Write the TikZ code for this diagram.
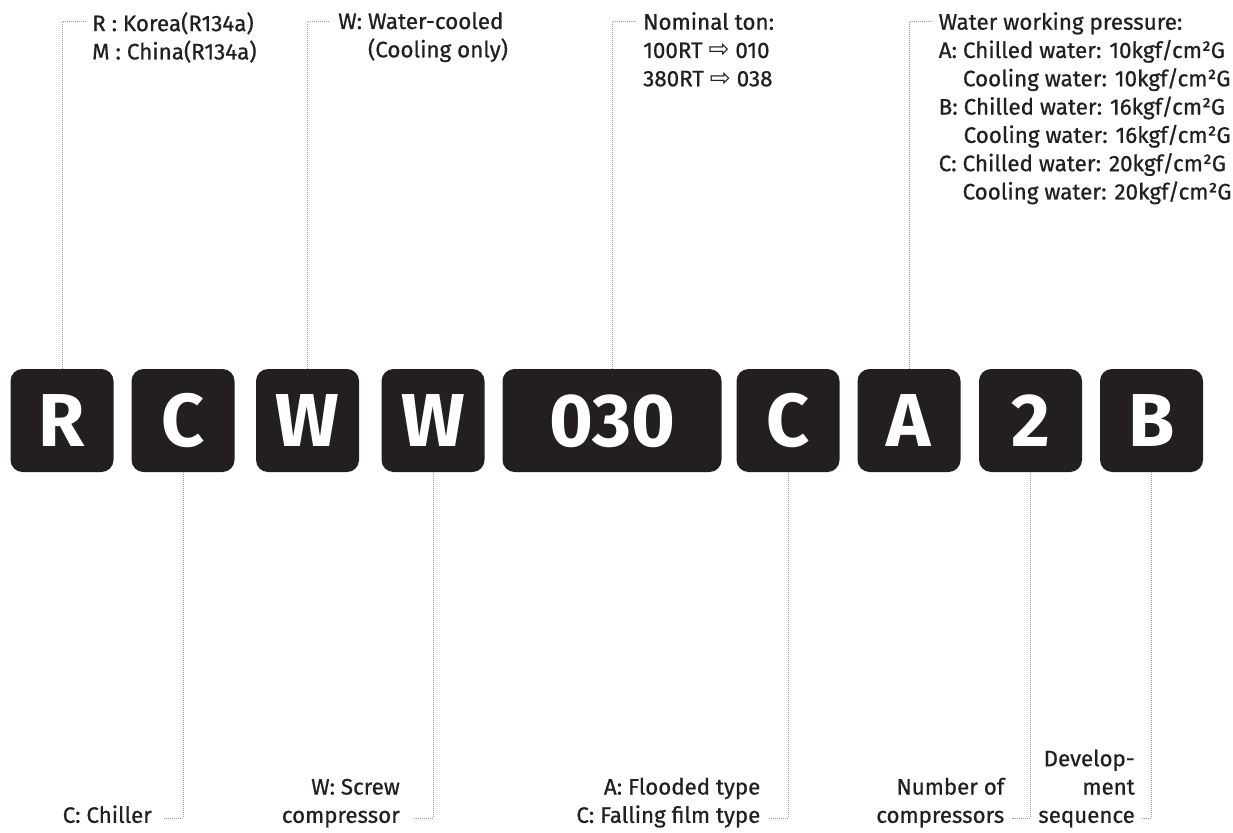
\documentclass[tikz,border=0pt]{standalone}
\usepackage{fontspec}
\setmainfont{Fira Sans}[UprightFeatures={FakeBold=0.7}]
\newfontfamily\arrowfont{DejaVu Sans}
\usetikzlibrary{positioning}

\definecolor{boxblack}{HTML}{231F20}
\definecolor{dotgray}{HTML}{9A9A9A}

\newcommand{\toarr}{{\arrowfont\fontsize{25}{28.3}\selectfont ⇨}}

\begin{document}
\begin{tikzpicture}[x=1pt, y=-1pt,
    codebox/.style={fill=boxblack, rounded corners=12pt, minimum width=103pt, minimum height=103pt,
      inner sep=0pt, text=white, text height=52pt, text depth=0pt, font=\fontsize{75}{75}\selectfont\bfseries},
    leader/.style={draw=dotgray, line width=0.8pt, dash pattern=on 1pt off 1pt},
    toplabel/.style={anchor=north west, align=left, inner sep=0pt, text=boxblack, font=\fontsize{22.4}{28.3}\selectfont},
    botlabel/.style={anchor=south east, align=right, inner sep=0pt, text depth=0pt, text=boxblack, font=\fontsize{22.3}{28.3}\selectfont}]
  \useasboundingbox (0,0) rectangle (1233,832);

  % code letters
  \node[codebox] (bR) at (62,420.5) {R};
  \node[codebox] (bC) at (183,420.5) {C};
  \node[codebox] (bW) at (307.5,420.5) {W};
  \node[codebox] (bS) at (433,420.5) {W};
  \node[codebox, minimum width=219pt] (bT) at (612,420.5) {030};
  \node[codebox] (bE) at (788,420.5) {C};
  \node[codebox] (bP) at (909,420.5) {A};
  \node[codebox] (bN) at (1030.5,420.5) {2};
  \node[codebox] (bD) at (1151.5,420.5) {B};

  % upper labels
  \node[toplabel] (lR) at (92,12) {R : Korea(R134a)\\M : China(R134a)};
  \node[toplabel] (lW) at (338,12) {W: Water-cooled\\\hphantom{W: }(Cooling only)};
  \node[toplabel] (lT) at (643,12) {Nominal ton:\\100RT \toarr{} 010\\380RT \toarr{} 038};
  \node[toplabel] (lP) at (938.5,12) {Water working pressure:\\
    A: Chilled water: 10kgf/cm²G\\\hphantom{A: }Cooling water: 10kgf/cm²G\\
    B: Chilled water: 16kgf/cm²G\\\hphantom{B: }Cooling water: 16kgf/cm²G\\
    C: Chilled water: 20kgf/cm²G\\\hphantom{C: }Cooling water: 20kgf/cm²G};

  % lower labels
  \node[botlabel] (lC) at (152,823) {C: Chiller};
  \node[botlabel] (lS) at (400,823) {W: Screw\\compressor};
  \node[botlabel] (lE) at (760.5,823) {A: Flooded type\\C: Falling film type};
  \node[botlabel] (lN) at (1004.5,823) {Number of\\compressors};
  \node[botlabel] (lD) at (1135,823) {Develop-\\ment\\sequence};

  % leaders
  \draw[leader] (bR.north) |- ([xshift=-7pt, yshift=-9.5pt]lR.north west);
  \draw[leader] (bW.north) |- ([xshift=-8pt, yshift=-9.5pt]lW.north west);
  \draw[leader] (bT.north) |- ([xshift=-8pt, yshift=-9.5pt]lT.north west);
  \draw[leader] (bP.north) |- ([xshift=-7pt, yshift=-9.5pt]lP.north west);
  \draw[leader] (bC.south) |- ([xshift=11pt, yshift=5pt]lC.south east);
  \draw[leader] (bS.south) |- ([xshift=13pt, yshift=5pt]lS.south east);
  \draw[leader] (bE.south) |- ([xshift=8.5pt, yshift=5pt]lE.south east);
  \draw[leader] (bN.south) |- ([xshift=7pt, yshift=5pt]lN.south east);
  \draw[leader] (bD.south) |- ([xshift=7pt, yshift=5pt]lD.south east);
\end{tikzpicture}
\end{document}
